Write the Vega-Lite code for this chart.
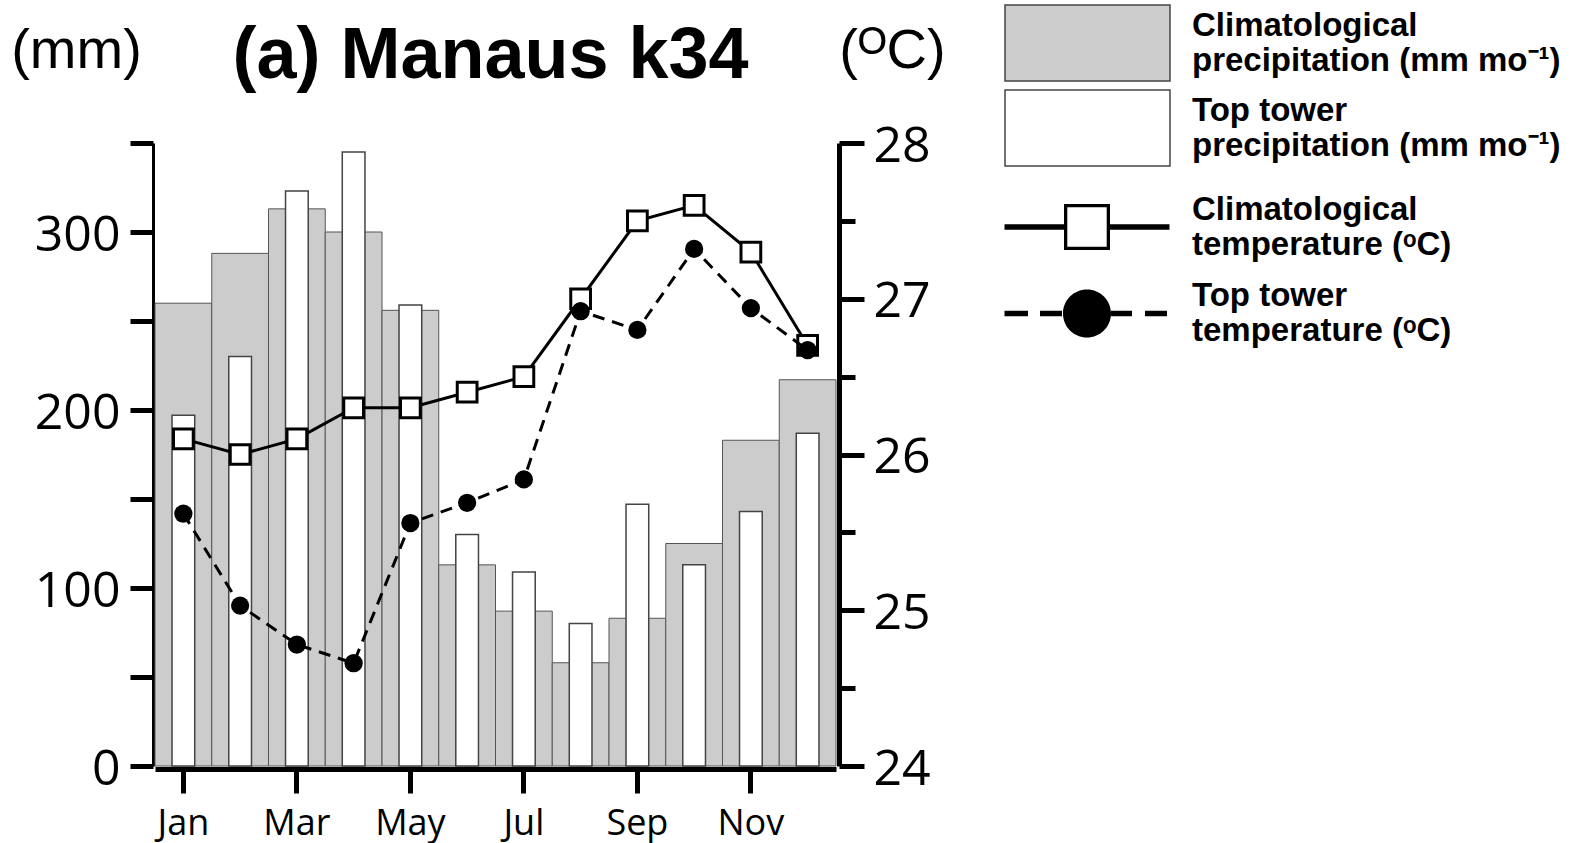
{
  "$schema": "https://vega.github.io/schema/vega-lite/v6.json",
  "width": 681,
  "height": 623,
  "autosize": {"type": "none"},
  "padding": {"left": 155, "top": 143, "right": 735, "bottom": 77},
  "background": "white",
  "config": {"view": {"stroke": null}},
  "title": {"text": "(a) Manaus k34", "font": "Liberation Sans", "fontSize": 72, "fontWeight": "bold", "color": "black", "anchor": "middle", "frame": "group", "dx": -5, "dy": 93},
  "data": {"values": [
    {"month": "Jan", "clim_p": 260, "tower_p": 197, "clim_t": 26.1, "tower_t": 25.62},
    {"month": "Feb", "clim_p": 288, "tower_p": 230, "clim_t": 26.0, "tower_t": 25.03},
    {"month": "Mar", "clim_p": 313, "tower_p": 323, "clim_t": 26.1, "tower_t": 24.78},
    {"month": "Apr", "clim_p": 300, "tower_p": 345, "clim_t": 26.3, "tower_t": 24.66},
    {"month": "May", "clim_p": 256, "tower_p": 259, "clim_t": 26.3, "tower_t": 25.56},
    {"month": "Jun", "clim_p": 113, "tower_p": 130, "clim_t": 26.4, "tower_t": 25.69},
    {"month": "Jul", "clim_p": 87, "tower_p": 109, "clim_t": 26.5, "tower_t": 25.84},
    {"month": "Aug", "clim_p": 58, "tower_p": 80, "clim_t": 27.0, "tower_t": 26.92},
    {"month": "Sep", "clim_p": 83, "tower_p": 147, "clim_t": 27.5, "tower_t": 26.80},
    {"month": "Oct", "clim_p": 125, "tower_p": 113, "clim_t": 27.6, "tower_t": 27.32},
    {"month": "Nov", "clim_p": 183, "tower_p": 143, "clim_t": 27.3, "tower_t": 26.94},
    {"month": "Dec", "clim_p": 217, "tower_p": 187, "clim_t": 26.7, "tower_t": 26.67}
  ]},
  "encoding": {
    "x": {
      "field": "month", "type": "ordinal", "sort": null,
      "scale": {"domain": ["Jan","Feb","Mar","Apr","May","Jun","Jul","Aug","Sep","Oct","Nov","Dec"], "paddingInner": 0, "paddingOuter": 0},
      "axis": {"values": ["Jan","Mar","May","Jul","Sep","Nov"], "bandPosition": 0.5, "title": null, "labelAngle": 0, "labelFont": "Open Sans", "labelFontSize": 36, "labelFontWeight": 500, "labelColor": "black", "labelPadding": 13, "domainColor": "black", "domainWidth": 5, "tickColor": "black", "tickWidth": 5, "tickSize": 24, "offset": 3, "grid": false}
    }
  },
  "layer": [
    {
      "layer": [
        {
          "mark": {"type": "bar", "stroke": "#555555", "strokeWidth": 1},
          "encoding": {
            "y": {"field": "clim_p", "type": "quantitative", "scale": {"domain": [0, 350], "nice": false},
              "axis": {"title": "(mm)", "titleAngle": 0, "titleX": -77, "titleY": -76, "titleAlign": "center", "titleBaseline": "alphabetic", "titleFont": "Liberation Sans", "titleFontSize": 56, "titleFontWeight": "normal", "titleColor": "black",
                "values": [0, 50, 100, 150, 200, 250, 300, 350], "labelExpr": "datum.value % 100 === 0 ? datum.label : ''",
                "labelFont": "Open Sans", "labelFontSize": 50, "labelFontWeight": 500, "labelColor": "black", "labelPadding": 10, "labelOffset": 3,
                "domainColor": "black", "domainWidth": 3, "tickColor": "black", "tickWidth": 5, "tickSize": 23, "offset": 2, "grid": false}},
            "fill": {"datum": "Climatological|precipitation (mm mo⁻¹)", "type": "nominal",
              "scale": {"domain": ["Climatological|precipitation (mm mo⁻¹)", "Top tower|precipitation (mm mo⁻¹)"], "range": ["#cccccc", "#ffffff"]},
              "legend": {"orient": "none", "legendX": 911, "legendY": -139, "title": null, "padding": 0,
                "symbolType": "M-4.024,-1H4.024V2.707H-4.024Z", "symbolSize": 1681, "symbolStrokeColor": "#555555", "symbolStrokeWidth": 1.5, "symbolOpacity": 1,
                "labelExpr": "split(datum.label, '|')", "labelFont": "Liberation Sans", "labelFontSize": 33, "labelFontWeight": "bold", "labelColor": "black", "labelLimit": 800, "labelOffset": 83, "rowPadding": 3}}
          }
        },
        {
          "mark": {"type": "bar", "width": {"band": 0.4}, "stroke": "#444444", "strokeWidth": 1.5},
          "encoding": {
            "y": {"field": "tower_p", "type": "quantitative", "scale": {"domain": [0, 350], "nice": false}},
            "fill": {"datum": "Top tower|precipitation (mm mo⁻¹)", "type": "nominal"}
          }
        }
      ]
    },
    {
      "layer": [
        {
          "mark": {"type": "line", "color": "black", "strokeWidth": 3},
          "encoding": {
            "y": {"field": "clim_t", "type": "quantitative", "scale": {"domain": [24, 28], "nice": false},
              "axis": {"orient": "right", "title": "(ᴼC)", "titleAngle": 0, "titleX": 53, "titleY": -76, "titleAlign": "center", "titleBaseline": "alphabetic", "titleFont": "Liberation Sans", "titleFontSize": 56, "titleFontWeight": "normal", "titleColor": "black",
                "values": [24, 24.5, 25, 25.5, 26, 26.5, 27, 27.5, 28], "labelExpr": "datum.value % 1 === 0 ? format(datum.value, 'd') : ''",
                "labelFont": "Open Sans", "labelFontSize": 50, "labelFontWeight": 500, "labelColor": "black", "labelPadding": 9, "labelOffset": 3,
                "domainColor": "black", "domainWidth": 5, "tickColor": "black", "tickWidth": 5,
                "tickSize": {"condition": {"test": "datum.value % 1 === 0", "value": 25}, "value": 16},
                "offset": 3, "grid": false}}
          }
        },
        {
          "mark": {"type": "point", "shape": "square", "filled": true, "fill": "white", "stroke": "black", "strokeWidth": 3, "size": 390, "opacity": 1},
          "encoding": {"y": {"field": "clim_t", "type": "quantitative", "scale": {"domain": [24, 28], "nice": false}}}
        },
        {
          "mark": {"type": "line", "color": "black", "strokeWidth": 3, "strokeDash": [12, 8]},
          "encoding": {"y": {"field": "tower_t", "type": "quantitative", "scale": {"domain": [24, 28], "nice": false}}}
        },
        {
          "mark": {"type": "circle", "color": "black", "size": 333, "opacity": 1},
          "encoding": {"y": {"field": "tower_t", "type": "quantitative", "scale": {"domain": [24, 28], "nice": false}}}
        }
      ]
    },
    {
      "data": {"values": []},
      "mark": {"type": "point", "filled": true, "fill": "black", "strokeWidth": 0, "opacity": 1},
      "encoding": {
        "shape": {"field": "series", "type": "nominal",
          "scale": {"domain": ["Climatological|temperature (ᵒC)", "Top tower|temperature (ᵒC)"],
            "range": [
              "M-4.024,0.72H-1.122V0.988H-4.024ZM1.122,0.72H4.024V0.988H1.122ZM-1.122,-0.268H1.122V1.976H-1.122ZM-0.961,-0.107V1.815H0.961V-0.107Z",
              "M-4.024,0.72H-2.878V0.988H-4.024ZM-2.293,0.72H-1.22V0.988H-2.293ZM1.171,0.72H2.195V0.988H1.171ZM2.829,0.72H3.902V0.988H2.829ZM-1.171,0.854A1.171,1.171,0,1,0,1.171,0.854A1.171,1.171,0,1,0,-1.171,0.854Z"
            ]},
          "legend": {"orient": "none", "legendX": 911.5, "legendY": 46, "title": null, "padding": 0,
            "symbolSize": 1681, "symbolFillColor": "black", "symbolStrokeColor": "black", "symbolStrokeWidth": 0, "symbolOpacity": 1,
            "labelExpr": "split(datum.label, '|')", "labelFont": "Liberation Sans", "labelFontSize": 33, "labelFontWeight": "bold", "labelColor": "black", "labelLimit": 800, "labelOffset": 84.5, "rowPadding": 13.5}
        }
      }
    }
  ],
  "resolve": {"scale": {"y": "independent", "fill": "independent"}}
}
